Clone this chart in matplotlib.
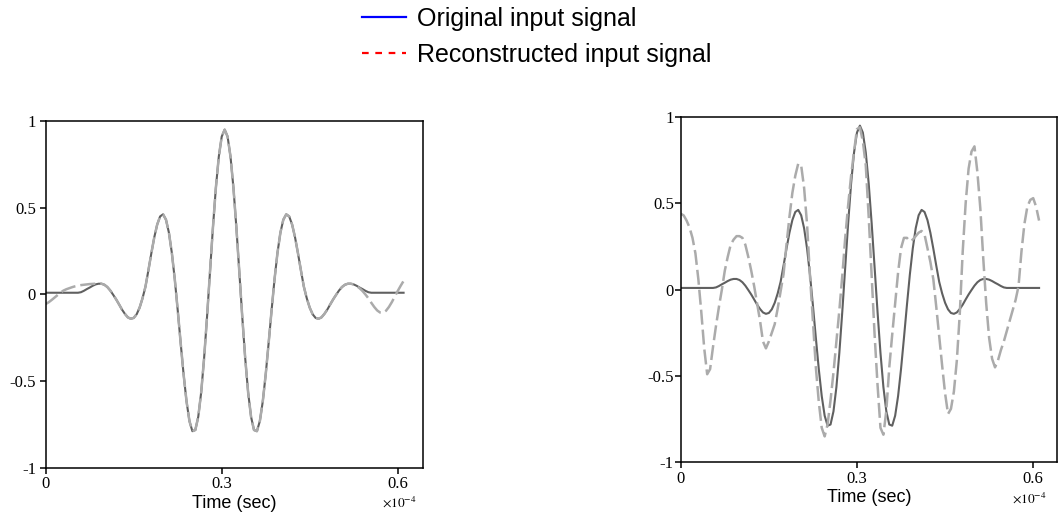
import numpy as np
import matplotlib
matplotlib.use("Agg")
import matplotlib.pyplot as plt
from matplotlib.lines import Line2D

plt.rcParams['font.family'] = ['Liberation Serif', 'DejaVu Serif']
plt.rcParams['mathtext.fontset'] = 'stix'

# time in units of 1e-4 s, sampled every 0.005
step = 0.005

orig = [
    0.010, 0.010, 0.010, 0.010, 0.010, 0.010, 0.010, 0.010, 0.010, 0.010, 0.010, 0.010,
    0.013, 0.021, 0.031, 0.040, 0.050, 0.058, 0.062, 0.062, 0.056, 0.043, 0.023,
    -0.002, -0.028, -0.057, -0.087, -0.112, -0.132, -0.140, -0.135, -0.114, -0.076, -0.022, 0.045,
    0.139, 0.237, 0.329, 0.403, 0.450, 0.462, 0.431, 0.356, 0.239, 0.087,
    -0.091, -0.279, -0.460, -0.616, -0.730, -0.788, -0.781, -0.705, -0.564, -0.366, -0.128,
    0.130, 0.385, 0.614, 0.794, 0.910,
    0.950,
    0.910, 0.794, 0.614, 0.385, 0.130,
    -0.128, -0.366, -0.564, -0.705, -0.781, -0.788, -0.730, -0.616, -0.460, -0.279, -0.091,
    0.087, 0.239, 0.356, 0.431, 0.462, 0.450, 0.403, 0.329, 0.237, 0.139,
    0.045, -0.022, -0.076, -0.114, -0.135, -0.140, -0.132, -0.112, -0.087, -0.057, -0.028, -0.002,
    0.023, 0.043, 0.056, 0.062, 0.062, 0.058, 0.050, 0.040, 0.031, 0.021, 0.013,
    0.010, 0.010, 0.010, 0.010, 0.010, 0.010, 0.010, 0.010, 0.010, 0.010, 0.010, 0.010,
]

# left panel: reconstruction differs from the original only near both ends
recon_left_head = [-0.055, -0.045, -0.032, -0.018, -0.004, 0.010, 0.022, 0.030, 0.036,
                   0.042, 0.047, 0.051, 0.054, 0.056, 0.058, 0.060, 0.061, 0.062]
recon_left_tail = [0.058, 0.049, 0.036, 0.020, 0.000, -0.022, -0.048, -0.072, -0.092,
                   -0.104, -0.106, -0.094, -0.072, -0.044, -0.012, 0.020, 0.050, 0.078]
recon_left = recon_left_head + orig[18:105] + recon_left_tail

recon_right = [
    0.44, 0.43, 0.40, 0.36, 0.30, 0.21, 0.06, -0.13, -0.34, -0.49,
    -0.46, -0.33, -0.21, -0.10, 0.00, 0.11, 0.19, 0.26, 0.29, 0.31,
    0.31, 0.30, 0.26, 0.19, 0.11, 0.02, -0.08, -0.18, -0.30, -0.34,
    -0.30, -0.25, -0.20, -0.11, -0.01, 0.09, 0.26, 0.42, 0.56, 0.66,
    0.73, 0.72, 0.59, 0.38, 0.08, -0.18, -0.45, -0.65, -0.80, -0.85,
    -0.78, -0.64, -0.48, -0.30, -0.12, 0.08, 0.30, 0.49, 0.66, 0.80,
    0.93, 0.94, 0.86, 0.72, 0.42, 0.08, -0.26, -0.55, -0.80, -0.84,
    -0.70, -0.45, -0.26, -0.08, 0.10, 0.24, 0.30, 0.30, 0.28, 0.29,
    0.31, 0.33, 0.34, 0.32, 0.24, 0.16, 0.06, -0.10, -0.27, -0.44,
    -0.60, -0.72, -0.69, -0.59, -0.41, -0.14, 0.22, 0.50, 0.70, 0.80,
    0.83, 0.68, 0.47, 0.18, -0.08, -0.28, -0.40, -0.45, -0.41, -0.35,
    -0.30, -0.24, -0.18, -0.12, -0.06, 0.02, 0.22, 0.38, 0.48, 0.52,
    0.53, 0.48, 0.40,
]

xticks = [0, 0.3, 0.6]
xtick_labels = ['0', '0.3', '0.6']
yticks = [-1, -0.5, 0, 0.5, 1]
ytick_labels = ['-1', '-0.5', '0', '0.5', '1']
legend_labels = ['Original input signal', 'Reconstructed input signal']

t = np.arange(len(orig)) * step

fig = plt.figure(figsize=(10.61, 5.15), dpi=100)
ax1 = fig.add_axes([0.0431, 0.0913, 0.3553, 0.6738])
ax2 = fig.add_axes([0.6416, 0.1023, 0.3549, 0.6705])


def setup(ax, recon, xmax, ypad, sx, sy):
    ax.plot(t, orig, color='#606060', lw=1.5)
    ax.plot(t, recon, color='#ababab', lw=1.8, dashes=(6, 2))
    ax.set_xlim(0, xmax)
    ax.set_ylim(-1, 1)
    ax.set_xticks(xticks)
    ax.set_xticklabels(xtick_labels)
    ax.set_yticks(yticks)
    ax.set_yticklabels(ytick_labels)
    ax.tick_params(direction='out', length=4, width=1.1, labelsize=12,
                   top=False, right=False)
    ax.tick_params(axis='y', pad=ypad)
    ax.tick_params(axis='x', pad=2)
    for s in ax.spines.values():
        s.set_linewidth(1.1)
    ax.set_xlabel('Time (sec)', family='Liberation Sans', fontsize=13, labelpad=2)
    ax.text(sx, sy, r'$\times10^{-4}$', transform=ax.transAxes,
            ha='right', va='center', fontsize=9.5)


setup(ax1, recon_left, 0.6426, 3, 0.985, -0.10)
setup(ax2, recon_right, 0.641, 1, 0.973, -0.105)

handles = [Line2D([], [], color='blue', lw=1.6),
           Line2D([], [], color='red', lw=1.6, ls=(0, (3, 3)))]
fig.legend(handles, legend_labels, loc='upper left', bbox_to_anchor=(0.341, 0.986),
           frameon=False, prop={'family': 'Liberation Sans', 'size': 18},
           handlelength=1.75, handletextpad=0.45, labelspacing=0.47,
           borderpad=0, borderaxespad=0)

fig.savefig('out.png', dpi=100)
